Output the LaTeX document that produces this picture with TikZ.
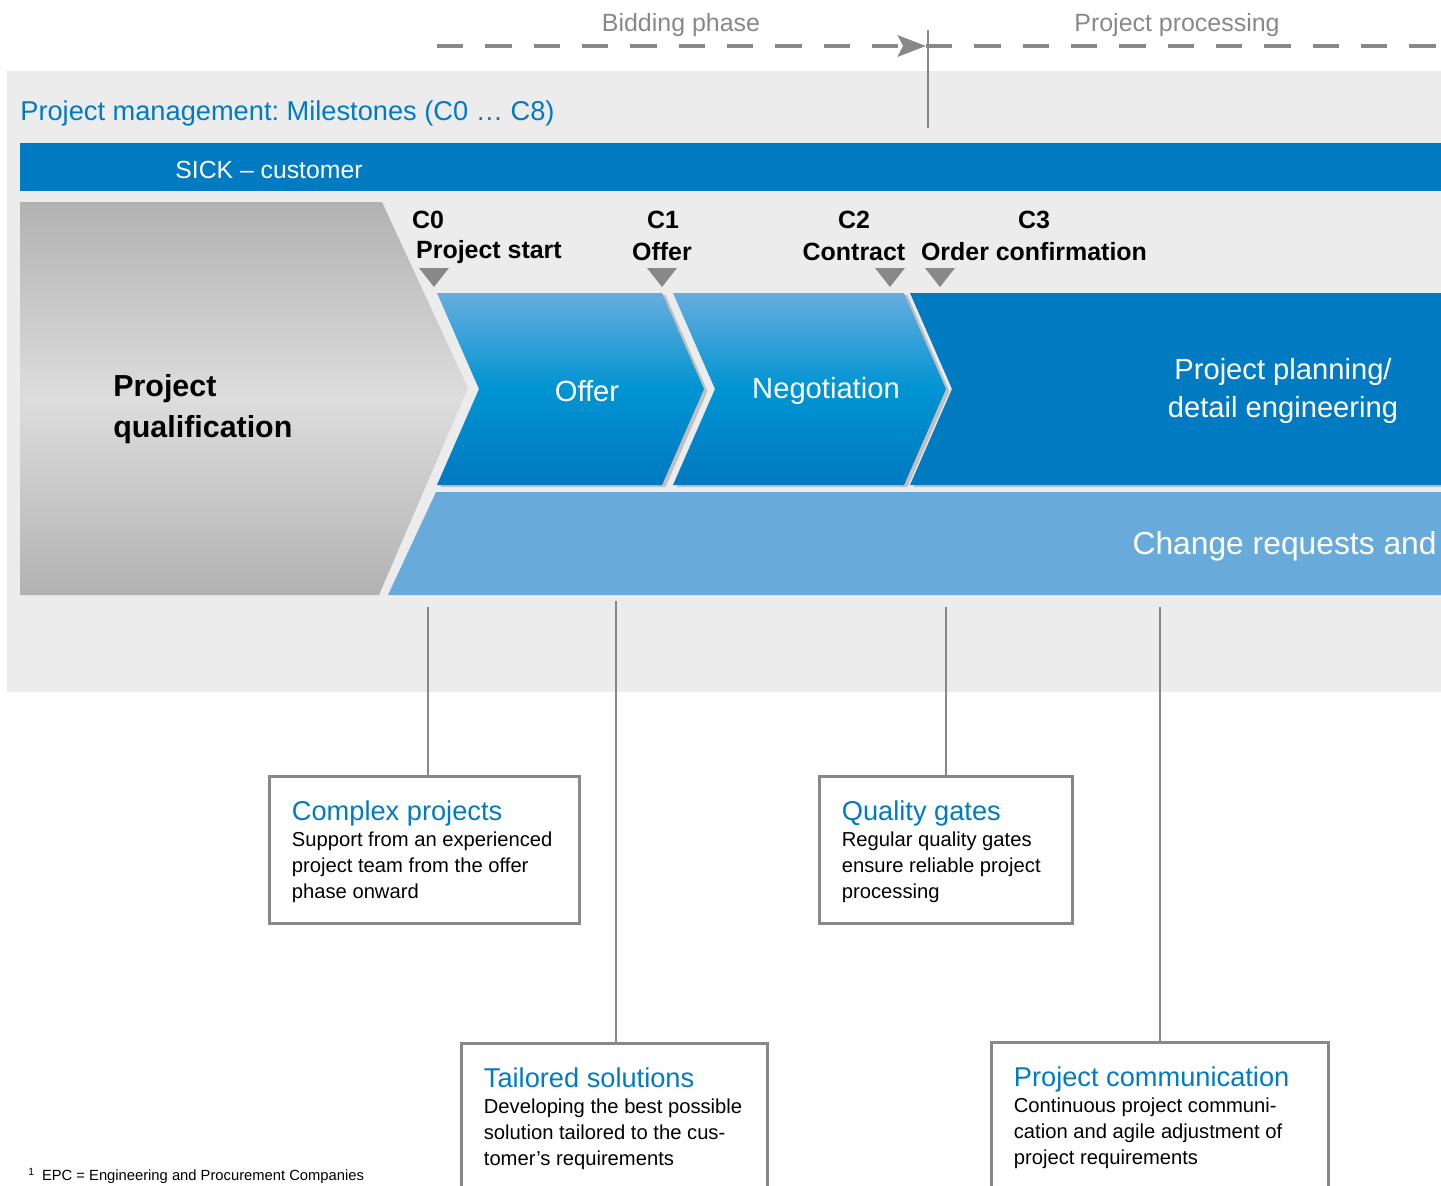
\documentclass[tikz,border=0pt]{standalone}
\usepackage{fontspec}
\setmainfont{Liberation Sans}
\usetikzlibrary{positioning}
\usetikzlibrary{arrows.meta}
\usetikzlibrary{shadows}
\definecolor{sickblue}{RGB}{0,123,194}
\definecolor{bandblue}{RGB}{104,170,218}
\definecolor{chevtop}{RGB}{103,173,222}
\definecolor{chevmid}{RGB}{0,148,210}
\definecolor{chevbot}{RGB}{0,121,192}
\definecolor{bggray}{RGB}{236,236,236}
\definecolor{linegray}{RGB}{136,136,136}
\definecolor{qualedge}{RGB}{178,178,178}
\definecolor{qualmid}{RGB}{221,221,221}
\frenchspacing
\tikzset{
phase/.style={ % labels above the dashed phase line
text=linegray,
font=\fontsize{14.2}{17}\selectfont},
phaseline/.style={
draw=linegray,
line width=2.8pt,
dash pattern=on 15pt off 12.5pt},
connector/.style={draw=linegray, line width=1.1pt},
chevron/.style={ % stage arrows with gradient
top color=chevtop,
bottom color=chevbot,
middle color=chevmid,
drop shadow={shadow xshift=2pt, shadow yshift=-1.2pt, opacity=0.4}},
stagetext/.style={text=white, font=\fontsize{16.6}{22}\selectfont},
msname/.style={font=\bfseries\fontsize{14.2}{17}\selectfont, inner sep=0pt},
mslabel/.style={font=\bfseries\fontsize{14.2}{17}\selectfont, inner sep=0pt},
infobox/.style={draw=linegray, line width=1.7pt, fill=white},
infotext/.style={inner sep=0pt, align=left, font=\fontsize{11.5}{14.7}\selectfont}}
\newcommand{\boxtitle}[1]{{\color{sickblue}\fontsize{15.5}{18}\selectfont #1}}

\begin{document}
\begin{tikzpicture}[x=0.02cm, y=-0.02cm]
	\useasboundingbox (0,0) rectangle (1441,1186);
	\clip (0,0) rectangle (1441,1186);
	% phase line
	\node[phase] (bidding) at (681,25) {Bidding phase};
	\node[phase] (processing) at (1177,25) {Project processing};
	\coordinate (phasestart) at (437,46);
	\coordinate (phasesplit) at (926,46);
	\coordinate (phaseend) at (1441,46);
	\fill[bggray] (7,71) rectangle (1441,692);
	\draw[phaseline, -{Stealth[length=16pt, width=12pt, inset=3pt]}] (phasestart) -- (phasesplit);
	\draw[phaseline] (phasesplit) -- (phaseend);
	\coordinate (divtop) at (928,30);
	\coordinate (divbot) at (928,128);
	\draw[connector] (divtop) -- (divbot);
	% management header
	\node[anchor=west, inner sep=0pt, text=sickblue, font=\fontsize{15.5}{18}\selectfont] (pm) at (20,113) {Project management: Milestones (C0 \dots\ C8)};
	\fill[sickblue] (20,143) rectangle (1441,191);
	\node[anchor=west, inner sep=0pt, text=white, font=\fontsize{14.1}{17}\selectfont] (sick) at (175,170) {SICK -- customer};
	% stages
	\fill[bandblue] (388,595) -- (436,492) -- (1441,492) -- (1441,595) -- cycle;
	\node[anchor=east, inner sep=0pt, text=white, font=\fontsize{18.1}{22}\selectfont] (change) at (1437,546) {Change requests and};
	\path[top color=qualedge, bottom color=qualedge, middle color=qualmid] (20,202) -- (382,202) -- (468,388) -- (379,595) -- (20,595) -- cycle;
	\path[fill=sickblue, drop shadow={shadow xshift=2pt, shadow yshift=-1.2pt, opacity=0.4}] (910,293) -- (1441,293) -- (1441,485) -- (910,485) -- (952,389) -- cycle;
	\path[chevron] (673,293) -- (904,293) -- (946,389) -- (904,485) -- (673,485) -- (715,389) -- cycle;
	\path[chevron] (437,293) -- (662,293) -- (704,389) -- (662,485) -- (437,485) -- (479,389) -- cycle;
	\node[anchor=west, inner sep=0pt, align=left, font=\bfseries\fontsize{17.3}{23}\selectfont] (qual) at (113,409) {Project\\qualification};
	\node[stagetext] (offer) at (587,391) {Offer};
	\node[stagetext] (nego) at (826,391) {Negotiation};
	\node[stagetext, align=center] (planning) at (1283,391) {Project planning/\\detail engineering};
	% milestones
	\node[msname] (c0) at (428,220) {C0};
	\node[mslabel] (c0lbl) at (489,252) {Project start};
	\node[msname] (c1) at (663,220) {C1};
	\node[mslabel] (c1lbl) at (662,252) {Offer};
	\node[msname] (c2) at (854,220) {C2};
	\node[mslabel] (c2lbl) at (854,252) {Contract};
	\node[msname] (c3) at (1034,220) {C3};
	\node[mslabel] (c3lbl) at (1034,252) {Order confirmation};
	\foreach \x in {434,662,890,940}
		\fill[linegray] (\x-15,268) -- (\x+15,268) -- (\x,287) -- cycle;
	% info boxes
	\node[infobox, minimum width=6.22cm, minimum height=2.96cm] (complex) at (424.5,850) {};
	\node[infotext, below right=0.52cm and 0.48cm of complex.north west] (complextxt) {\boxtitle{Complex projects}\\Support from an experienced\\project team from the offer\\phase onward};
	\node[infobox, minimum width=5.08cm, minimum height=2.96cm] (quality) at (946,850) {};
	\node[infotext, below right=0.52cm and 0.48cm of quality.north west] (qualitytxt) {\boxtitle{Quality gates}\\Regular quality gates\\ensure reliable project\\processing};
	\node[infobox, minimum width=6.14cm, minimum height=2.96cm] (tailored) at (614.5,1117) {};
	\node[infotext, below right=0.52cm and 0.48cm of tailored.north west] (tailoredtxt) {\boxtitle{Tailored solutions}\\Developing the best possible\\solution tailored to the cus-\\tomer's requirements};
	\node[infobox, minimum width=6.76cm, minimum height=2.96cm] (comm) at (1160,1116) {};
	\node[infotext, below right=0.52cm and 0.48cm of comm.north west] (commtxt) {\boxtitle{Project communication}\\Continuous project communi-\\cation and agile adjustment of\\project requirements};
	% connectors
	\coordinate (link0) at (428,607);
	\coordinate (link1) at (616,601);
	\coordinate (link2) at (946,607);
	\coordinate (link3) at (1160,607);
	\draw[connector] (link0) -- (link0 |- complex.north);
	\draw[connector] (link1) -- (link1 |- tailored.north);
	\draw[connector] (link2) -- (link2 |- quality.north);
	\draw[connector] (link3) -- (link3 |- comm.north);
	\node[anchor=base west, inner sep=0pt, font=\fontsize{8.4}{10}\selectfont] (fn) at (28,1180) {\textsuperscript{1}\hspace{4pt}EPC = Engineering and Procurement Companies};
	\end{tikzpicture}
\end{document}
